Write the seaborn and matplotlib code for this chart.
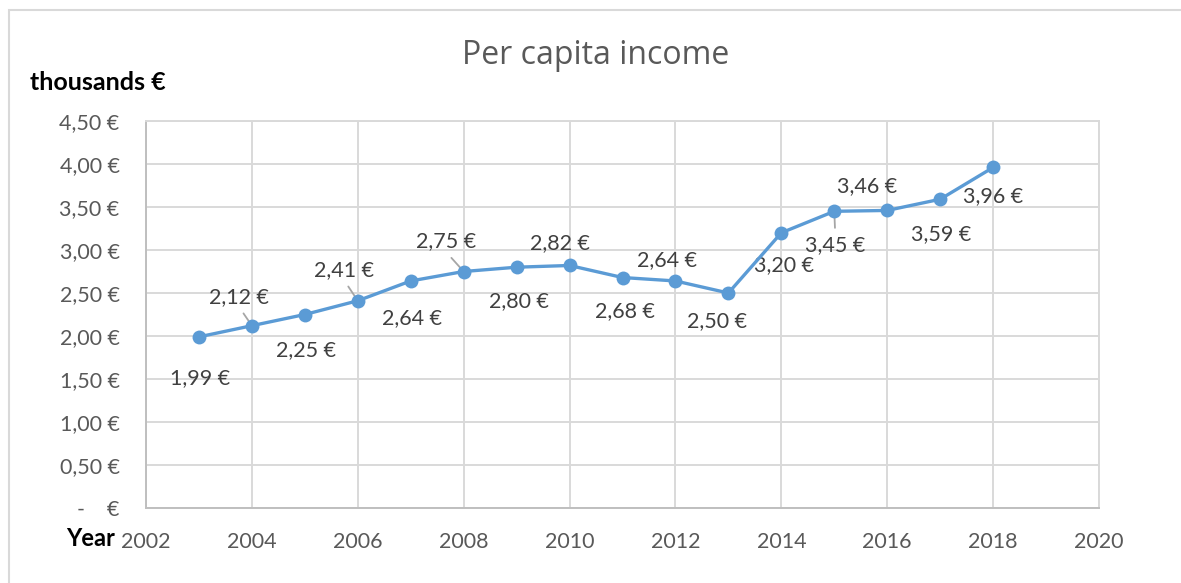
import matplotlib
matplotlib.use("Agg")
import matplotlib.pyplot as plt
from matplotlib.patches import Rectangle
from matplotlib.ticker import FuncFormatter, MultipleLocator
import seaborn as sns
import pandas as pd

# Per capita income, thousands of euro
years = [2003, 2004, 2005, 2006, 2007, 2008, 2009, 2010,
         2011, 2012, 2013, 2014, 2015, 2016, 2017, 2018]
income = [1.99, 2.12, 2.25, 2.41, 2.64, 2.75, 2.80, 2.82,
          2.68, 2.64, 2.50, 3.20, 3.45, 3.46, 3.59, 3.96]

# label placement (pixel offsets from each point) and which labels get a leader line
label_offsets = [(1, -41), (-13, 29), (1, -36), (-14, 31), (1, -37), (-18, 30),
                 (2, -34), (-10, 22), (2, -34), (-8, 21), (-11, -28), (3, -32),
                 (1, -34), (-20, 24), (1, -35), (0, -29)]
leaders = {2004, 2006, 2008, 2015}

df = pd.DataFrame({"Year": years, "Income": income})

sns.set_style("white")
plt.rcParams["font.family"] = ["Lato", "DejaVu Sans"]

W, H = 1181, 583
fig = plt.figure(figsize=(W / 100, H / 100), dpi=100)
ax = fig.add_axes([146 / W, 1 - 508 / H, (1099 - 146) / W, (508 - 121) / H])

line_color = "#5B9BD5"
grid_color = "#d9d9d9"
text_gray = "#595959"
label_size = 15.5

sns.lineplot(data=df, x="Year", y="Income", ax=ax, color=line_color,
             linewidth=2.4, marker="o", markersize=10, markeredgewidth=0,
             zorder=5)

ax.set_xlim(2002, 2020)
ax.set_ylim(0, 4.5)
ax.xaxis.set_major_locator(MultipleLocator(2))
ax.yaxis.set_major_locator(MultipleLocator(0.5))


def euro(v, _pos):
    if abs(v) < 1e-9:
        return "-    €"
    return f"{v:.2f}".replace(".", ",") + " €"


ax.yaxis.set_major_formatter(FuncFormatter(euro))
ax.xaxis.set_major_formatter(FuncFormatter(lambda v, p: f"{int(round(v))}"))

ax.grid(True, color=grid_color, linewidth=1.4)
ax.set_axisbelow(True)
for side in ["top", "right"]:
    ax.spines[side].set_color(grid_color)
    ax.spines[side].set_linewidth(1.4)
for side in ["left", "bottom"]:
    ax.spines[side].set_color("#bfbfbf")
    ax.spines[side].set_linewidth(1.4)

ax.tick_params(axis="y", length=0, pad=19, labelsize=label_size, labelcolor=text_gray)
ax.tick_params(axis="x", length=0, pad=17, labelsize=label_size, labelcolor=text_gray)
ax.set_xlabel("")
ax.set_ylabel("")

# data labels
for yr, val, (dx, dy) in zip(years, income, label_offsets):
    txt = f"{val:.2f}".replace(".", ",") + " €"
    kw = {}
    if yr in leaders:
        relpos = (0.5, 0.0) if dy > 0 else (0.5, 1.0)
        kw["arrowprops"] = dict(arrowstyle="-", color="#a6a6a6", lw=1.3,
                                shrinkA=3, shrinkB=4, relpos=relpos)
    ax.annotate(txt, (yr, val), xytext=(dx, dy), textcoords="offset pixels",
                ha="center", va="center", fontsize=label_size, color="#404040",
                zorder=4, **kw)

# titles and axis captions
fig.text(596 / W, 1 - 55 / H, "Per capita income", ha="center", va="center",
         fontsize=23, color=text_gray, family=["Open Sans", "DejaVu Sans"])
fig.text(30 / W, 1 - 83 / H, "thousands €", ha="left", va="center",
         fontsize=18, fontweight="bold", color="black")
fig.text(66 / W, 1 - 539 / H, "Year", ha="left", va="center",
         fontsize=17, fontweight="bold", color="black")

# chart area frame
fig.add_artist(Rectangle((9 / W, -0.2), 1.5, (1 - 10 / H) + 0.2,
                         transform=fig.transFigure, fill=False,
                         edgecolor=grid_color, linewidth=1.5))

fig.savefig("out.png", dpi=100, facecolor="white")
